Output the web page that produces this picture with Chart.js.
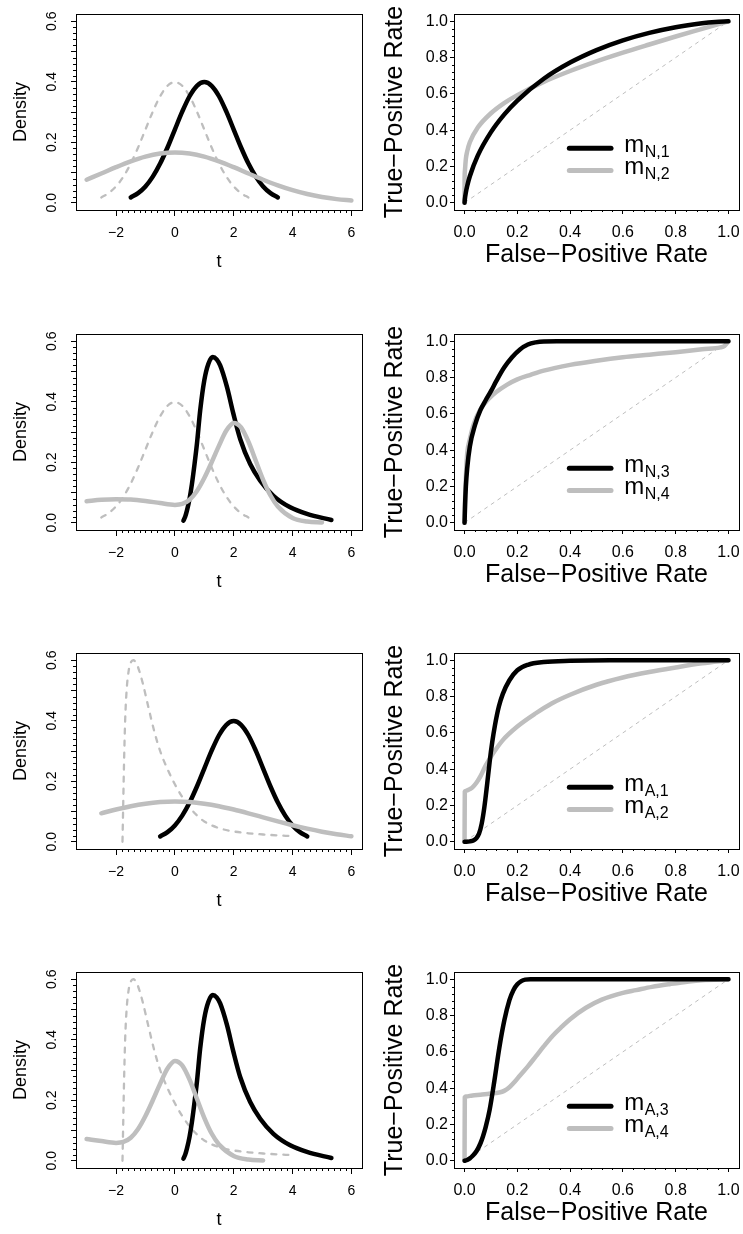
<!DOCTYPE html>
<html>
<head>
<meta charset="utf-8">
<script src="https://cdn.jsdelivr.net/npm/chart.js@4.4.1/dist/chart.umd.min.js"></script>
<style>
  html, body { margin: 0; padding: 0; background: #fff; overflow: hidden; }
  #fig { position: relative; width: 743px; height: 1234px; }
  #fig canvas { position: absolute; }
</style>
</head>
<body>
<div id="fig"></div>
<script>
// ---------- density curves (left column) ----------
const tNorm0 = [-2.5, -2.25, -2, -1.75, -1.5, -1.25, -1, -0.75, -0.5, -0.25, 0, 0.25, 0.5, 0.75, 1, 1.25, 1.5, 1.75, 2, 2.25, 2.5];
const tNorm1 = [-1.5, -1.25, -1, -0.75, -0.5, -0.25, 0, 0.25, 0.5, 0.75, 1, 1.25, 1.5, 1.75, 2, 2.25, 2.5, 2.75, 3, 3.25, 3.5];
const tNorm2 = [-0.5, -0.25, 0, 0.25, 0.5, 0.75, 1, 1.25, 1.5, 1.75, 2, 2.25, 2.5, 2.75, 3, 3.25, 3.5, 3.75, 4, 4.25, 4.5];
const normDensity = [0.0175, 0.0317, 0.0540, 0.0863, 0.1295, 0.1826, 0.2420, 0.3011, 0.3521, 0.3867, 0.3989, 0.3867, 0.3521, 0.3011, 0.2420, 0.1826, 0.1295, 0.0863, 0.0540, 0.0317, 0.0175];

const tWide1 = [-3, -2.5, -2, -1.5, -1, -0.5, 0, 0.5, 1, 1.5, 2, 2.5, 3, 3.5, 4, 4.5, 5, 5.5, 6];
const wideDensity1 = [0.0761, 0.0966, 0.1175, 0.1367, 0.1524, 0.1626, 0.1662, 0.1626, 0.1524, 0.1367, 0.1175, 0.0966, 0.0761, 0.0574, 0.0415, 0.0287, 0.0190, 0.0120, 0.0073];

const tWide3 = [-2.5, -2, -1.5, -1, -0.5, 0, 0.5, 1, 1.5, 2, 2.5, 3, 3.5, 4, 4.5, 5, 5.5, 6];
const wideDensity3 = [0.0940, 0.1065, 0.1174, 0.1258, 0.1312, 0.1330, 0.1312, 0.1258, 0.1174, 0.1065, 0.0940, 0.0807, 0.0673, 0.0547, 0.0432, 0.0332, 0.0248, 0.0180];

const tSkewAlt = [0.29, 0.35, 0.41, 0.5, 0.58, 0.67, 0.75, 0.86, 1.0, 1.14, 1.29, 1.42, 1.54, 1.77, 1.99, 2.22, 2.56, 2.9, 3.35, 3.92, 4.49, 5.32];
const skewAltDensity = [0.007, 0.02, 0.04, 0.08, 0.128, 0.195, 0.261, 0.371, 0.471, 0.526, 0.548, 0.54, 0.52, 0.449, 0.36, 0.277, 0.194, 0.139, 0.089, 0.051, 0.029, 0.009];

const tSkewNull = [-1.78, -1.76, -1.73, -1.69, -1.64, -1.57, -1.49, -1.41, -1.3, -1.2, -1.08, -0.9, -0.7, -0.5, -0.25, 0, 0.25, 0.5, 0.75, 1, 1.5, 2, 2.5, 3, 3.5, 3.9];
const skewNullDensity = [0, 0.10, 0.25, 0.40, 0.50, 0.565, 0.594, 0.600, 0.588, 0.562, 0.520, 0.445, 0.365, 0.300, 0.240, 0.190, 0.148, 0.114, 0.087, 0.067, 0.045, 0.034, 0.028, 0.024, 0.021, 0.019];

const tBimodal2 = [-3, -2.5, -2, -1.5, -1, -0.5, 0, 0.25, 0.5, 0.75, 1, 1.25, 1.5, 1.75, 2, 2.25, 2.5, 2.75, 3, 3.25, 3.5, 4, 4.5, 5];
const bimodalDensity2 = [0.071, 0.076, 0.078, 0.077, 0.072, 0.065, 0.059, 0.062, 0.076, 0.105, 0.148, 0.200, 0.255, 0.305, 0.330, 0.315, 0.268, 0.205, 0.142, 0.090, 0.054, 0.016, 0.004, 0.001];

const tBimodal4 = [-3, -2.5, -2, -1.75, -1.5, -1.25, -1, -0.75, -0.5, -0.25, 0, 0.25, 0.5, 0.75, 1, 1.25, 1.5, 2, 2.5, 3];
const bimodalDensity4 = [0.072, 0.065, 0.059, 0.062, 0.076, 0.105, 0.148, 0.200, 0.255, 0.305, 0.330, 0.315, 0.268, 0.205, 0.142, 0.090, 0.054, 0.016, 0.004, 0.001];

// ---------- ROC curves (right column) ----------
const fprN1 = [0, 0.001, 0.005, 0.01, 0.02, 0.05, 0.1, 0.15, 0.2, 0.3, 0.4, 0.5, 0.6, 0.7, 0.8, 0.9, 0.95, 1];
const tprN1 = [0, 0.0183, 0.0575, 0.0924, 0.146, 0.2595, 0.389, 0.4856, 0.563, 0.683, 0.7724, 0.8413, 0.895, 0.936, 0.9672, 0.9887, 0.9959, 1];
const fprN2 = [0, 0.0001, 0.001, 0.005, 0.01, 0.02, 0.05, 0.1, 0.15, 0.2, 0.3, 0.4, 0.5, 0.6, 0.7, 0.8, 0.9, 1];
const tprN2 = [0, 0.105, 0.170, 0.242, 0.283, 0.333, 0.414, 0.493, 0.549, 0.593, 0.666, 0.726, 0.779, 0.827, 0.872, 0.916, 0.958, 1];

const fprN3 = [0, 0.002, 0.005, 0.01, 0.02, 0.04, 0.06, 0.08, 0.1, 0.12, 0.15, 0.18, 0.21, 0.24, 0.27, 0.3, 0.35, 0.4, 1];
const tprN3 = [0, 0.10, 0.20, 0.30, 0.42, 0.54, 0.62, 0.675, 0.725, 0.78, 0.855, 0.912, 0.955, 0.982, 0.994, 0.999, 1, 1, 1];
const fprN4 = [0, 0.002, 0.005, 0.01, 0.02, 0.035, 0.06, 0.09, 0.12, 0.16, 0.2, 0.25, 0.3, 0.4, 0.5, 0.6, 0.7, 0.8, 0.9, 0.97, 0.985, 1];
const tprN4 = [0, 0.13, 0.25, 0.38, 0.46, 0.545, 0.625, 0.68, 0.72, 0.76, 0.79, 0.815, 0.838, 0.87, 0.893, 0.912, 0.926, 0.940, 0.956, 0.966, 0.974, 1];

const fprA1 = [0, 0.02, 0.035, 0.045, 0.055, 0.065, 0.075, 0.085, 0.095, 0.105, 0.115, 0.13, 0.145, 0.17, 0.2, 0.24, 0.3, 0.4, 0.55, 1];
const tprA1 = [0, 0.002, 0.008, 0.02, 0.045, 0.10, 0.19, 0.31, 0.44, 0.55, 0.64, 0.745, 0.815, 0.89, 0.945, 0.975, 0.99, 0.997, 1, 1];
const fprA2 = [0, 0.001, 0.003, 0.01, 0.02, 0.03, 0.045, 0.06, 0.08, 0.105, 0.145, 0.2, 0.27, 0.33, 0.4, 0.5, 0.6, 0.7, 0.8, 0.9, 1];
const tprA2 = [0, 0.276, 0.28, 0.283, 0.29, 0.30, 0.325, 0.36, 0.42, 0.48, 0.56, 0.635, 0.708, 0.762, 0.81, 0.865, 0.905, 0.935, 0.96, 0.983, 1];

const fprA3 = [0, 0.01, 0.02, 0.03, 0.045, 0.06, 0.07, 0.08, 0.095, 0.113, 0.132, 0.151, 0.17, 0.185, 0.2, 0.215, 0.23, 0.25, 0.3, 1];
const tprA3 = [0, 0.004, 0.013, 0.026, 0.052, 0.095, 0.135, 0.185, 0.28, 0.44, 0.625, 0.775, 0.885, 0.94, 0.972, 0.99, 0.998, 1, 1, 1];
const fprA4 = [0, 0.001, 0.005, 0.03, 0.06, 0.1, 0.13, 0.15, 0.17, 0.19, 0.21, 0.24, 0.27, 0.3, 0.335, 0.37, 0.4, 0.46, 0.52, 0.6, 0.65, 0.71, 0.78, 0.85, 0.9, 1];
const tprA4 = [0, 0.35, 0.354, 0.36, 0.364, 0.37, 0.376, 0.385, 0.405, 0.435, 0.47, 0.52, 0.575, 0.63, 0.69, 0.74, 0.78, 0.843, 0.888, 0.925, 0.94, 0.958, 0.974, 0.988, 0.995, 1];

const diagX = [0, 1];
const diagY = [0, 1];

// ---------- ticks and labels ----------
const densityXTicks = [-2, 0, 2, 4, 6];
const densityXLabels = ['\u22122', '0', '2', '4', '6'];
const densityYTicks = [0, 0.1, 0.2, 0.3, 0.4, 0.5, 0.6];
const densityYLabels = ['0.0', '', '0.2', '', '0.4', '', '0.6'];
const rocTicks = [0, 0.2, 0.4, 0.6, 0.8, 1];
const rocLabels = ['0.0', '0.2', '0.4', '0.6', '0.8', '1.0'];
const legendSubs = [['N,1', 'N,2'], ['N,3', 'N,4'], ['A,1', 'A,2'], ['A,3', 'A,4']];

const GRAY = '#bebebe';
const FONT = "'Liberation Sans', Arial, Helvetica, sans-serif";
const rowTop = [0, 320, 639, 958];

Chart.defaults.font.family = FONT;
Chart.defaults.color = '#000';

const densityPanels = [
  { dashed: [tNorm0, normDensity], black: [tNorm1, normDensity], gray: [tWide1, wideDensity1] },
  { dashed: [tNorm0, normDensity], black: [tSkewAlt, skewAltDensity], gray: [tBimodal2, bimodalDensity2] },
  { dashed: [tSkewNull, skewNullDensity], black: [tNorm2, normDensity], gray: [tWide3, wideDensity3] },
  { dashed: [tSkewNull, skewNullDensity], black: [tSkewAlt, skewAltDensity], gray: [tBimodal4, bimodalDensity4] }
];
const rocPanels = [
  { black: [fprN1, tprN1], gray: [fprN2, tprN2] },
  { black: [fprN3, tprN3], gray: [fprN4, tprN4] },
  { black: [fprA1, tprA1], gray: [fprA2, tprA2] },
  { black: [fprA3, tprA3], gray: [fprA4, tprA4] }
];

const fig = document.getElementById('fig');

function addCanvas(left, top, w, h) {
  const c = document.createElement('canvas');
  c.width = w;
  c.height = h;
  c.style.left = left + 'px';
  c.style.top = top + 'px';
  fig.appendChild(c);
  return c;
}

function curve(pair, color, width, dash, order) {
  return {
    data: pair[0].map((x, i) => ({ x: x, y: pair[1][i] })),
    borderColor: color,
    borderWidth: width,
    borderDash: dash || [],
    borderCapStyle: 'round',
    borderJoinStyle: 'round',
    cubicInterpolationMode: 'monotone',
    pointRadius: 0,
    fill: false,
    order: order
  };
}

function axis(o) {
  return {
    type: 'linear',
    min: o.min,
    max: o.max,
    afterBuildTicks: s => { s.ticks = o.ticks.map(v => ({ value: v })); },
    afterFit: s => {
      if (o.horizontal) s.height = o.size; else s.width = o.size;
      s.paddingLeft = s.paddingRight = s.paddingTop = s.paddingBottom = 0;
    },
    ticks: {
      autoSkip: false,
      padding: o.pad,
      minRotation: o.rot || 0,
      maxRotation: o.rot || 0,
      crossAlign: o.cross || 'near',
      color: '#000',
      font: { size: o.tickFont, lineHeight: 1 },
      callback: (v, i) => o.labels[i]
    },
    grid: { drawOnChartArea: false, drawTicks: true, tickLength: o.tl, color: '#000', lineWidth: 1 },
    border: { display: false },
    title: { display: true, text: o.title, color: '#000', font: { size: o.titleFont, lineHeight: 1 }, padding: 0 }
  };
}

function minorTicks(ctx, scale, from, to, step, len, majors) {
  const n = Math.round((to - from) / step);
  ctx.beginPath();
  for (let i = 0; i <= n; i++) {
    const v = from + i * step;
    if (majors.some(m => Math.abs(m - v) < step / 10)) continue;
    const p = Math.round(scale.getPixelForValue(v)) + 0.5;
    if (scale.isHorizontal()) {
      ctx.moveTo(p, scale.top);
      ctx.lineTo(p, scale.top + len);
    } else {
      ctx.moveTo(scale.right, p);
      ctx.lineTo(scale.right - len, p);
    }
  }
  ctx.stroke();
}

// box, minor ticks and (for ROC) the legend
function decor(spec) {
  return {
    id: 'rDecor',
    afterDraw(chart) {
      const { ctx, chartArea: a, scales: { x, y } } = chart;
      ctx.save();
      ctx.strokeStyle = '#000';
      ctx.lineWidth = 1;
      ctx.strokeRect(Math.round(a.left) + 0.5, Math.round(a.top) + 0.5,
        Math.round(a.right) - Math.round(a.left), Math.round(a.bottom) - Math.round(a.top));
      minorTicks(ctx, x, spec.xMinor[0], spec.xMinor[1], spec.xMinor[2], spec.minorLen, spec.xMajor);
      minorTicks(ctx, y, spec.yMinor[0], spec.yMinor[1], spec.yMinor[2], spec.minorLen, spec.yMajor);

      if (spec.legend) {
        const x0 = x.getPixelForValue(0.397);
        const x1 = x.getPixelForValue(0.555);
        const xt = x.getPixelForValue(0.605);
        const ys = [0.30, 0.177];
        const cols = ['#000', GRAY];
        spec.legend.forEach((sub, i) => {
          const py = y.getPixelForValue(ys[i]);
          ctx.strokeStyle = cols[i];
          ctx.lineWidth = 5;
          ctx.lineCap = 'round';
          ctx.beginPath();
          ctx.moveTo(x0, py);
          ctx.lineTo(x1, py);
          ctx.stroke();
          ctx.fillStyle = '#000';
          ctx.textAlign = 'left';
          ctx.textBaseline = 'alphabetic';
          ctx.font = '24px ' + FONT;
          ctx.fillText('m', xt, py + 3.5);
          const w = ctx.measureText('m').width;
          ctx.font = '16px ' + FONT;
          ctx.fillText(sub, xt + w + 0.5, py + 8.5);
        });
      }
      ctx.restore();
    }
  };
}

function densityChart(canvas, p) {
  return new Chart(canvas, {
    type: 'line',
    data: {
      datasets: [
        curve(p.gray, GRAY, 4.5, null, 0),
        curve(p.black, '#000', 4.5, null, 1),
        curve(p.dashed, GRAY, 2.3, [5, 7], 2)
      ]
    },
    options: {
      responsive: false,
      animation: false,
      events: [],
      devicePixelRatio: 1,
      layout: { padding: { left: 12, right: 8, top: 14, bottom: 29 } },
      plugins: { legend: { display: false }, tooltip: { enabled: false } },
      scales: {
        x: axis({ horizontal: true, min: -3.36, max: 6.36, ticks: densityXTicks, labels: densityXLabels,
          size: 61, pad: 10, tl: 6, tickFont: 14, title: 't', titleFont: 18 }),
        y: axis({ horizontal: false, min: -0.024, max: 0.624, ticks: densityYTicks, labels: densityYLabels,
          size: 64, pad: 9, tl: 5, rot: 90, cross: 'center', tickFont: 14, title: 'Density', titleFont: 18 })
      }
    },
    plugins: [decor({ xMinor: [-2, 6, 0.2], yMinor: [0, 0.6, 0.02], minorLen: 3,
      xMajor: densityXTicks, yMajor: densityYTicks })]
  });
}

function rocChart(canvas, p, subs) {
  return new Chart(canvas, {
    type: 'line',
    data: {
      datasets: [
        curve(p.black, '#000', 4.5, null, 0),
        curve(p.gray, GRAY, 4.5, null, 1),
        Object.assign(curve([diagX, diagY], GRAY, 1, [4, 4], 2), { borderCapStyle: 'butt' })
      ]
    },
    options: {
      responsive: false,
      animation: false,
      events: [],
      devicePixelRatio: 1,
      layout: { padding: { left: 13, right: 4, top: 14, bottom: 32 } },
      plugins: { legend: { display: false }, tooltip: { enabled: false } },
      scales: {
        x: axis({ horizontal: true, min: -0.04, max: 1.04, ticks: rocTicks, labels: rocLabels,
          size: 58, pad: 11, tl: 4, tickFont: 16, title: 'False\u2212Positive Rate', titleFont: 25 }),
        y: axis({ horizontal: false, min: -0.04, max: 1.04, ticks: rocTicks, labels: rocLabels,
          size: 71, pad: 2, tl: 4, tickFont: 16, title: 'True\u2212Positive Rate', titleFont: 25 })
      }
    },
    plugins: [decor({ xMinor: [0, 1, 0.04], yMinor: [0, 1, 0.04], minorLen: 2,
      xMajor: rocTicks, yMajor: rocTicks, legend: subs })]
  });
}

for (let r = 0; r < 4; r++) {
  densityChart(addCanvas(0, rowTop[r], 370, 300), densityPanels[r]);
  rocChart(addCanvas(370, rowTop[r], 373, 300), rocPanels[r], legendSubs[r]);
}
</script>
</body>
</html>
